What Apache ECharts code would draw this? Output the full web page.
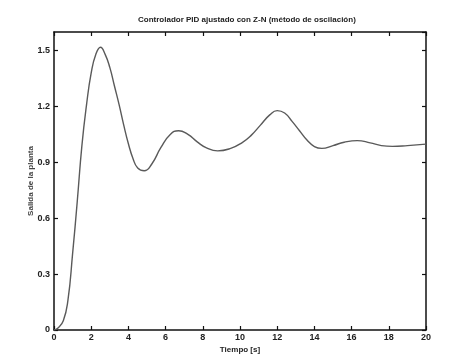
<!DOCTYPE html>
<html><head><meta charset="utf-8">
<script src="https://cdn.jsdelivr.net/npm/echarts@6/dist/echarts.min.js"></script>
<style>html,body{margin:0;padding:0;background:#fff}#c{width:467px;height:355px}</style>
</head><body><div id="c"></div>
<script>
const titleText = "Controlador PID ajustado con Z-N (método de oscilación)";
const xName = "Tiempo [s]";
const yName = "Salida de la planta";
const time = [0, 0.2, 0.5, 0.75, 1.0, 1.25, 1.5, 1.75, 2.0, 2.25, 2.5, 2.75, 3.0, 3.25, 3.5, 3.75, 4.0, 4.25, 4.5, 4.85, 5.25, 5.75, 6.25, 6.7, 7.2, 7.7, 8.2, 8.8, 9.5, 10.1, 10.6, 11.1, 11.6, 12.0, 12.4, 12.8, 13.2, 13.6, 14.0, 14.4, 15.0, 15.6, 16.3, 17.0, 17.6, 18.2, 19.0, 20.0];
const output = [0, 0.01, 0.05, 0.16, 0.41, 0.69, 0.99, 1.21, 1.38, 1.48, 1.518, 1.48, 1.41, 1.31, 1.21, 1.10, 1.0, 0.92, 0.87, 0.855, 0.89, 0.98, 1.05, 1.07, 1.05, 1.01, 0.978, 0.962, 0.975, 1.005, 1.045, 1.10, 1.155, 1.178, 1.165, 1.12, 1.07, 1.02, 0.985, 0.975, 0.99, 1.008, 1.017, 1.005, 0.99, 0.986, 0.99, 0.998];

const font = "'Liberation Sans Narrow', 'Liberation Sans', Arial, sans-serif";
const chart = echarts.init(document.getElementById('c'));
const axisLine = {show: true, onZero: false, lineStyle: {color: '#111', width: 1.5}};
const tick = {show: true, inside: true, length: 4, lineStyle: {color: '#111', width: 1.2}};
const lbl = {color: '#222', fontSize: 9, fontWeight: 'bold', fontFamily: font};
chart.setOption({
  animation: false,
  backgroundColor: '#fff',
  title: {text: titleText, left: 133, top: 11, textStyle: {fontSize: 8, fontWeight: 'bold', fontFamily: font, color: '#222'}},
  grid: {left: 54, right: 41, top: 32, bottom: 25, outerBoundsMode: 'none', containLabel: false},
  xAxis: [
    {type: 'value', min: 0, max: 20, interval: 2, axisLine, axisTick: tick, splitLine: {show: false},
     axisLabel: Object.assign({margin: 3}, lbl),
     name: xName, nameLocation: 'middle', nameGap: 16, nameMoveOverlap: false, nameTextStyle: {fontSize: 8, fontWeight: 'bold', fontFamily: font, color: '#222'}},
    {type: 'value', position: 'top', min: 0, max: 20, interval: 2, axisLine, axisTick: tick, axisLabel: {show: false}, splitLine: {show: false}}
  ],
  yAxis: [
    {type: 'value', min: 0, max: 1.6, interval: 0.3, axisLine, axisTick: tick, splitLine: {show: false},
     axisLabel: Object.assign({margin: 4, showMaxLabel: false}, lbl),
     name: yName, nameLocation: 'middle', nameGap: 19, nameMoveOverlap: false, nameTextStyle: {fontSize: 8, fontWeight: 'bold', fontFamily: font, color: '#444'}},
    {type: 'value', position: 'right', min: 0, max: 1.6, interval: 0.3, axisLine, axisTick: tick, axisLabel: {show: false}, splitLine: {show: false}}
  ],
  series: [{
    type: 'line', data: time.map((t, i) => [t, output[i]]), smooth: 0.5, showSymbol: false,
    lineStyle: {color: '#5a5a5a', width: 1.4}
  }]
});
</script></body></html>
